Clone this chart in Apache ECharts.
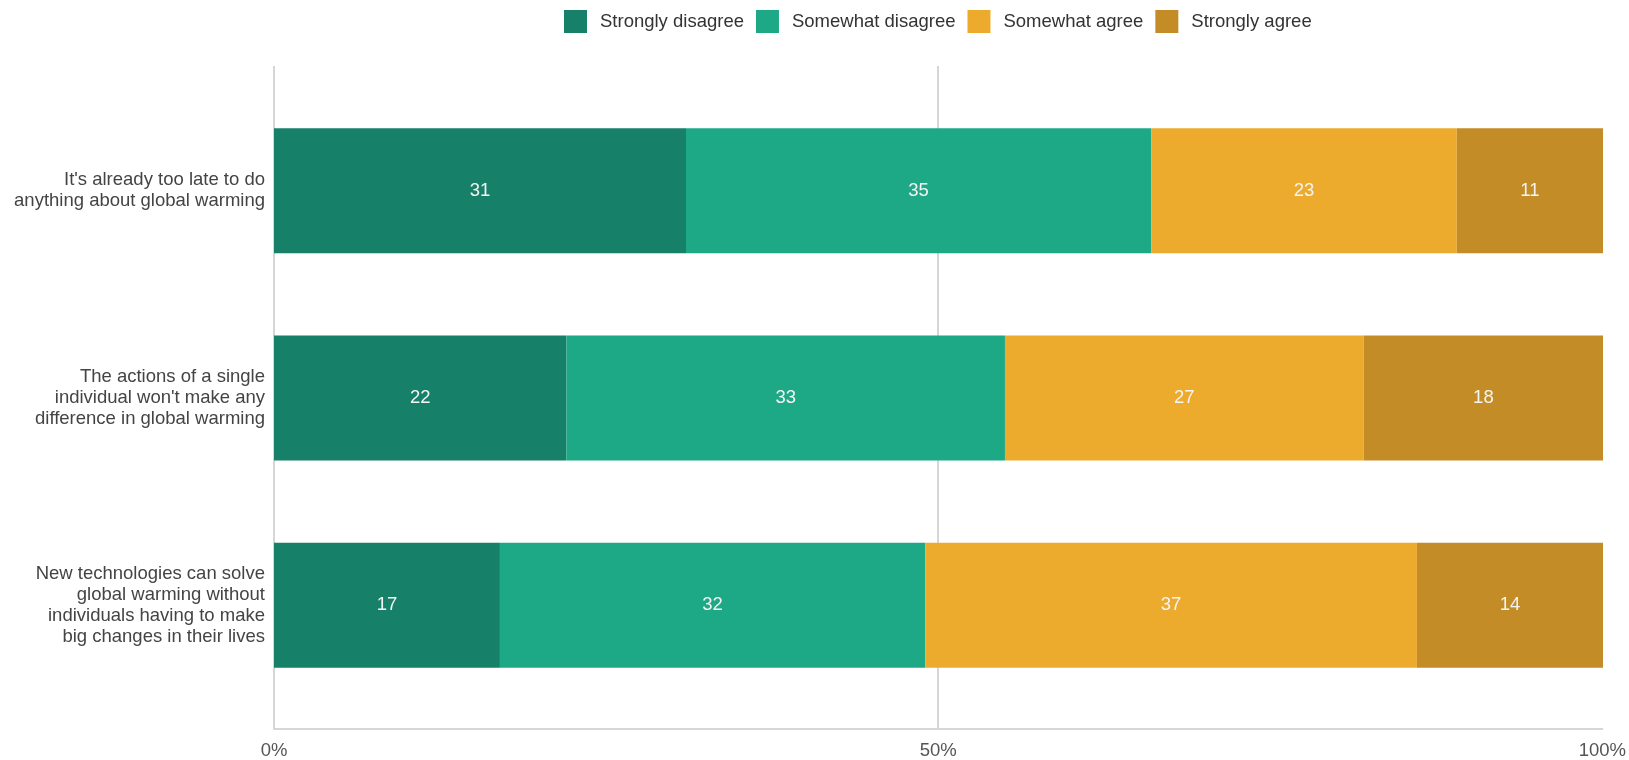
<!DOCTYPE html>
<html>
<head>
<meta charset="utf-8">
<script src="https://cdn.jsdelivr.net/npm/echarts@6/dist/echarts.min.js"></script>
<style>
  html, body { margin: 0; padding: 0; background: #fff; }
  #chart { width: 1629px; height: 760px; }
</style>
</head>
<body>
<div id="chart"></div>
<script>
const statements = [
  "It's already too late to do\nanything about global warming",
  "The actions of a single\nindividual won't make any\ndifference in global warming",
  "New technologies can solve\nglobal warming without\nindividuals having to make\nbig changes in their lives",
];
const stronglyDisagree = [31, 22, 17];
const somewhatDisagree = [35, 33, 32];
const somewhatAgree = [23, 27, 37];
const stronglyAgree = [11, 18, 14];
const tickValues = [0, 50, 100];

const font = "'Liberation Sans', Arial, sans-serif";
const lineColor = "#d6d6d6";

const chart = echarts.init(document.getElementById("chart"));

const mkSeries = (name, data, color) => ({
  name: name,
  type: "bar",
  stack: "total",
  xAxisIndex: 0,
  yAxisIndex: 0,
  barWidth: 125,
  data: data,
  itemStyle: { color: color },
  label: {
    show: true,
    position: "inside",
    color: "#f4f4f4",
    fontSize: 18.5,
    fontFamily: font,
  },
});

const option = {
  animation: false,
  textStyle: { fontFamily: font },
  legend: {
    left: 559,
    top: 5,
    itemWidth: 23,
    itemHeight: 23,
    itemGap: 12,
    icon: "rect",
    textStyle: { fontSize: 18.5, color: "#333", padding: [0, 0, 0, 8] },
    data: ["Strongly disagree", "Somewhat disagree", "Somewhat agree", "Strongly agree"],
  },
  grid: [
    // bars
    { left: 274, right: 26, top: 87, height: 622 },
    // axis frame, slightly taller than the bar area
    { left: 274, right: 26, top: 66, bottom: 30 },
  ],
  xAxis: [
    { gridIndex: 0, type: "value", min: 0, max: 100, show: false },
    {
      gridIndex: 1,
      type: "value",
      min: tickValues[0],
      max: tickValues[tickValues.length - 1],
      interval: 50,
      axisLine: { show: true, lineStyle: { color: lineColor, width: 2 } },
      axisTick: { show: false },
      axisLabel: {
        formatter: "{value}%",
        color: "#555",
        fontSize: 18.5,
        margin: 12,
      },
      splitLine: {
        show: true,
        showMaxLine: false,
        lineStyle: { color: lineColor, width: 2 },
      },
    },
  ],
  yAxis: [
    {
      gridIndex: 0,
      type: "category",
      inverse: true,
      data: statements,
      axisLine: { show: false },
      axisTick: { show: false },
      axisLabel: {
        color: "#444",
        fontSize: 18.5,
        lineHeight: 21,
        margin: 9,
        align: "right",
      },
    },
    { gridIndex: 1, type: "value", min: 0, max: 1, show: false },
  ],
  series: [
    mkSeries("Strongly disagree", stronglyDisagree, "#178068"),
    mkSeries("Somewhat disagree", somewhatDisagree, "#1da886"),
    mkSeries("Somewhat agree", somewhatAgree, "#edab2e"),
    mkSeries("Strongly agree", stronglyAgree, "#c38c26"),
  ],
};

chart.setOption(option);
</script>
</body>
</html>
